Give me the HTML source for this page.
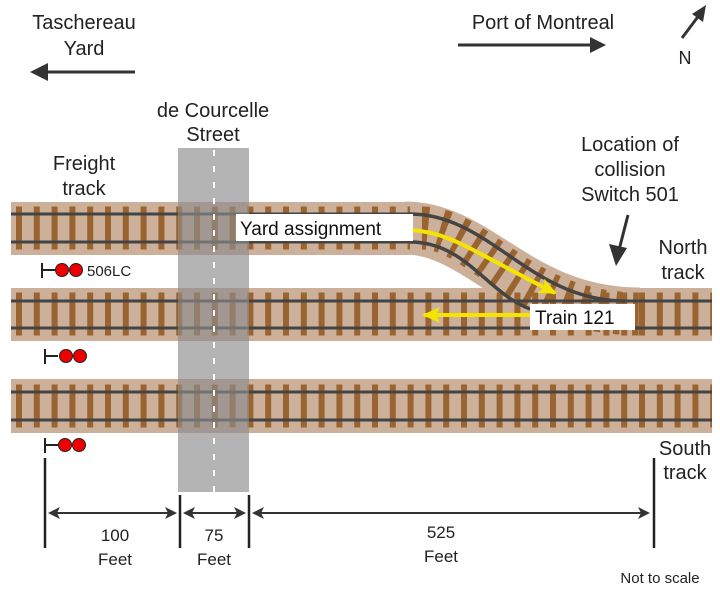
<!DOCTYPE html>
<html><head><meta charset="utf-8"><style>
html,body{margin:0;padding:0;background:#fff;}
svg{display:block;font-family:"Liberation Sans",Arial,sans-serif;}
</style></head><body>
<svg width="720" height="593" viewBox="0 0 720 593" xmlns="http://www.w3.org/2000/svg">
<defs>
<marker id="ahs" markerWidth="12" markerHeight="12" refX="10" refY="6" orient="auto-start-reverse" markerUnits="userSpaceOnUse"><path d="M0,0 L12,6 L0,12 L3,6z" fill="#333"/></marker>
<marker id="ya" markerWidth="18" markerHeight="16" refX="16" refY="8" orient="auto" markerUnits="userSpaceOnUse"><path d="M0,0 L18,8 L0,16 L4,8z" fill="#f5e400"/></marker>
</defs>
<g fill="#cdb09a">
<rect x="11" y="202" width="400" height="53"/>
<rect x="11" y="288" width="701" height="53"/>
<rect x="11" y="379" width="701" height="54"/>
</g>
<path d="M405,228 C480,228 520,314 640,314" stroke="#cdb09a" stroke-width="53" fill="none"/>
<g stroke="#9a6430" stroke-width="6" stroke-dasharray="6 11.8" fill="none">
<line x1="16" y1="228" x2="410" y2="228" stroke-width="43"/>
<line x1="16" y1="314" x2="712" y2="314" stroke-width="43"/>
<line x1="16" y1="406" x2="712" y2="406" stroke-width="43"/>
<path d="M422,228 C480,228 520,314 640,314" stroke-width="43"/>
</g>
<g stroke="#444" stroke-width="3" fill="none">
<line x1="11" y1="214" x2="412" y2="214"/>
<line x1="11" y1="242" x2="412" y2="242"/>
<line x1="11" y1="301" x2="712" y2="301"/>
<line x1="11" y1="328" x2="712" y2="328"/>
<line x1="11" y1="392" x2="712" y2="392"/>
<line x1="11" y1="420" x2="712" y2="420"/>
<path d="M410,214 C490,214 530,301 625,301" stroke-width="3.5"/>
<path d="M410,242 C470,242 490,301 540,312 C580,322 610,328 640,328" stroke-width="3.5"/>
</g>
<rect x="178" y="148" width="71" height="344" fill="#8c8c8c" fill-opacity="0.65"/>
<line x1="214" y1="150" x2="214" y2="492" stroke="#fff" stroke-width="2" stroke-dasharray="6 10"/>
<g stroke="#222" stroke-width="2" fill="#e00">
<line x1="42" y1="263" x2="42" y2="278"/><line x1="42" y1="270" x2="55" y2="270"/>
<circle cx="62" cy="270" r="6.5" stroke-width="1"/><circle cx="76" cy="270" r="6.5" stroke-width="1"/>
<line x1="45" y1="349" x2="45" y2="364"/><line x1="45" y1="356" x2="58" y2="356"/>
<circle cx="66" cy="356" r="6.5" stroke-width="1"/><circle cx="80" cy="356" r="6.5" stroke-width="1"/>
<line x1="45" y1="438" x2="45" y2="453"/><line x1="45" y1="445" x2="58" y2="445"/>
<circle cx="65" cy="445" r="6.5" stroke-width="1"/><circle cx="79" cy="445" r="6.5" stroke-width="1"/>
</g>
<text x="87" y="276" font-size="15" fill="#222">506LC</text>
<path d="M410,230 C450,232 470,250 555,293" stroke="#f5e400" stroke-width="4" fill="none" marker-end="url(#ya)"/>
<line x1="532" y1="315" x2="424" y2="315" stroke="#f5e400" stroke-width="4" marker-end="url(#ya)"/>
<rect x="236" y="214" width="177" height="27" fill="#fff"/>
<text x="240" y="235" font-size="19" fill="#111">Yard assignment</text>
<rect x="530" y="304" width="105" height="26" fill="#fff"/>
<text x="535" y="324" font-size="19" fill="#111">Train 121</text>
<g font-size="20" fill="#222" text-anchor="middle">
<text x="84" y="29">Taschereau</text><text x="84" y="55">Yard</text>
<text x="543" y="29">Port of Montreal</text>
<text x="213" y="117">de Courcelle</text><text x="213" y="141">Street</text>
<text x="84" y="170">Freight</text><text x="84" y="195">track</text>
<text x="630" y="151">Location of</text><text x="630" y="176">collision</text><text x="630" y="201">Switch 501</text>
<text x="683" y="254">North</text><text x="683" y="279">track</text>
<text x="685" y="455">South</text><text x="685" y="479">track</text>
<text x="685" y="64" font-size="18">N</text>
</g>
<g font-size="17" fill="#222" text-anchor="middle">
<text x="115" y="541">100</text><text x="115" y="565">Feet</text>
<text x="214" y="541">75</text><text x="214" y="565">Feet</text>
<text x="441" y="538">525</text><text x="441" y="562">Feet</text>
<text x="660" y="583" font-size="15">Not to scale</text>
</g>
<g stroke="#333" stroke-width="3">
<line x1="135" y1="72" x2="40" y2="72"/>
<line x1="458" y1="45" x2="600" y2="45"/>
<line x1="682" y1="38" x2="700" y2="14"/>
<line x1="628" y1="215" x2="619" y2="250"/>
</g>
<path d="M30,72 L48,63 L48,81z" fill="#333"/>
<path d="M606,45 L590,37 L590,53z" fill="#333"/>
<path d="M706,5 L703,22 L692,14z" fill="#333"/>
<path d="M616,266 L609,244 L627,248z" fill="#333"/>
<g stroke="#222" stroke-width="2.5">
<line x1="45" y1="458" x2="45" y2="548"/>
<line x1="180" y1="495" x2="180" y2="548"/>
<line x1="249" y1="495" x2="249" y2="548"/>
<line x1="654" y1="458" x2="654" y2="548"/>
</g>
<g stroke="#333" stroke-width="2">
<line x1="50" y1="513" x2="175" y2="513" marker-start="url(#ahs)" marker-end="url(#ahs)"/>
<line x1="185" y1="513" x2="244" y2="513" marker-start="url(#ahs)" marker-end="url(#ahs)"/>
<line x1="254" y1="513" x2="648" y2="513" marker-start="url(#ahs)" marker-end="url(#ahs)"/>
</g>
</svg>
</body></html>
